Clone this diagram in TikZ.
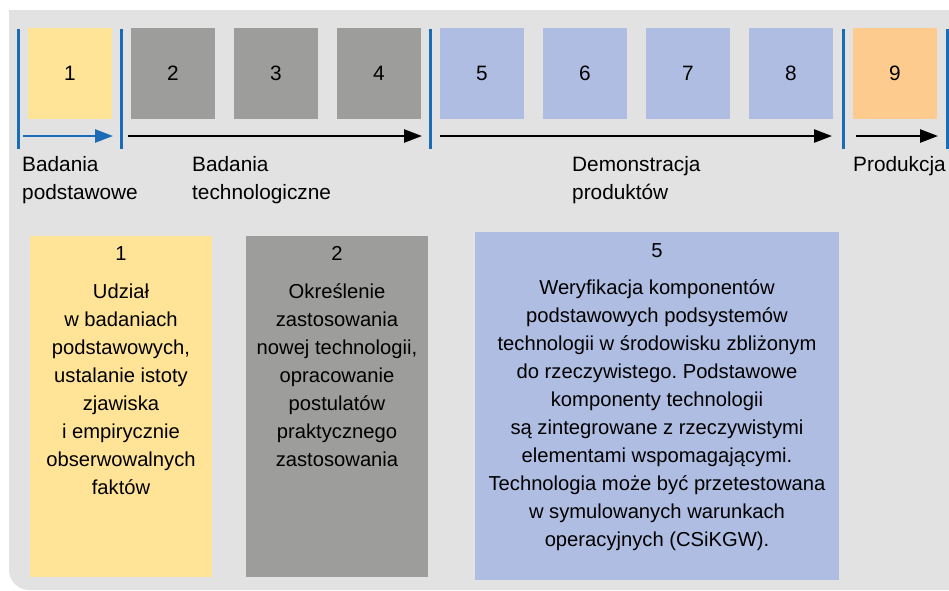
\documentclass[tikz,border=0pt]{standalone}
\usepackage{fontspec}
\setmainfont{Liberation Sans}
\usetikzlibrary{arrows.meta}
\definecolor{panelgray}{HTML}{E2E2E2}
\definecolor{phaseyellow}{HTML}{FFE497}
\definecolor{phasegray}{HTML}{9D9D9C}
\definecolor{phaseblue}{HTML}{AEBDE1}
\definecolor{phaseorange}{HTML}{FCCB8D}
\definecolor{sepblue}{HTML}{1A6CB4}
\frenchspacing
\begin{document}
\begin{tikzpicture}[x=1pt,y=-1pt,
  every node/.style={font=\fontsize{20.8}{28}\selectfont, inner sep=0pt},
  levelbox/.style={minimum width=84pt, minimum height=91pt},
  desctext/.style={anchor=north, align=center, font=\fontsize{20.2}{28}\selectfont},
  phaselabel/.style={anchor=north west, align=left},
  separator/.style={draw=sepblue, line width=3pt},
  timeline/.style={line width=2.5pt, -{Triangle[length=18pt,width=13pt]}},
]
\useasboundingbox (0,0) rectangle (949,590);
% panel with rounded lower-left corner
\fill[panelgray] (9,10) -- (949,10) -- (949,590) -- (29,590)
  .. controls (18,590) and (9,581) .. (9,570) -- cycle;

% readiness levels
\node[levelbox, fill=phaseyellow] (l1) at (70,73.5) {1};
\node[levelbox, fill=phasegray]   (l2) at (173,73.5) {2};
\node[levelbox, fill=phasegray]   (l3) at (276,73.5) {3};
\node[levelbox, fill=phasegray]   (l4) at (379,73.5) {4};
\node[levelbox, fill=phaseblue]   (l5) at (482,73.5) {5};
\node[levelbox, fill=phaseblue]   (l6) at (585,73.5) {6};
\node[levelbox, fill=phaseblue]   (l7) at (688,73.5) {7};
\node[levelbox, fill=phaseblue]   (l8) at (791,73.5) {8};
\node[levelbox, fill=phaseorange] (l9) at (895,73.5) {9};

% phase separators
\foreach \n/\x in {a/18,b/121,c/430,d/843,e/947}{
  \coordinate (sep\n top) at (\x,29);
  \coordinate (sep\n bot) at (\x,149);
  \draw[separator] (sep\n top) -- (sep\n bot);
}

% phase timelines
\coordinate (ta0) at (23,136);  \coordinate (ta1) at (113,136);
\coordinate (tb0) at (128,136); \coordinate (tb1) at (422,136);
\coordinate (tc0) at (440,136); \coordinate (tc1) at (832,136);
\coordinate (td0) at (856,136); \coordinate (td1) at (938,136);
\draw[timeline, sepblue] (ta0) -- (ta1);
\draw[timeline] (tb0) -- (tb1);
\draw[timeline] (tc0) -- (tc1);
\draw[timeline] (td0) -- (td1);

% phase names
\node[phaselabel] (p1) at (22,156) {Badania\\podstawowe};
\node[phaselabel] (p2) at (192,156) {Badania\\technologiczne};
\node[phaselabel] (p3) at (572,156) {Demonstracja\\produktów};
\node[phaselabel] (p4) at (853,156) {Produkcja};

% level descriptions
\fill[phaseyellow] (30,236) rectangle (212,577);
\coordinate (dA) at (121,246);
\node[desctext] (tA) at (dA) {1\\[10pt]Udział\\w badaniach\\podstawowych,\\ustalanie istoty\\zjawiska\\i empirycznie\\obserwowalnych\\faktów};

\fill[phasegray] (246,236) rectangle (428,577);
\coordinate (dB) at (337,246);
\node[desctext] (tB) at (dB) {2\\[10pt]Określenie\\zastosowania\\nowej technologii,\\opracowanie\\postulatów\\praktycznego\\zastosowania};

\fill[phaseblue] (475,232) rectangle (839,580);
\coordinate (dC) at (657,243);
\node[desctext] (tC) at (dC) {5\\[9pt]Weryfikacja komponentów\\podstawowych podsystemów\\technologii w środowisku zbliżonym\\do rzeczywistego. Podstawowe\\komponenty technologii\\są zintegrowane z rzeczywistymi\\elementami wspomagającymi.\\Technologia może być przetestowana\\w symulowanych warunkach\\operacyjnych (CSiKGW).};
\end{tikzpicture}
\end{document}
